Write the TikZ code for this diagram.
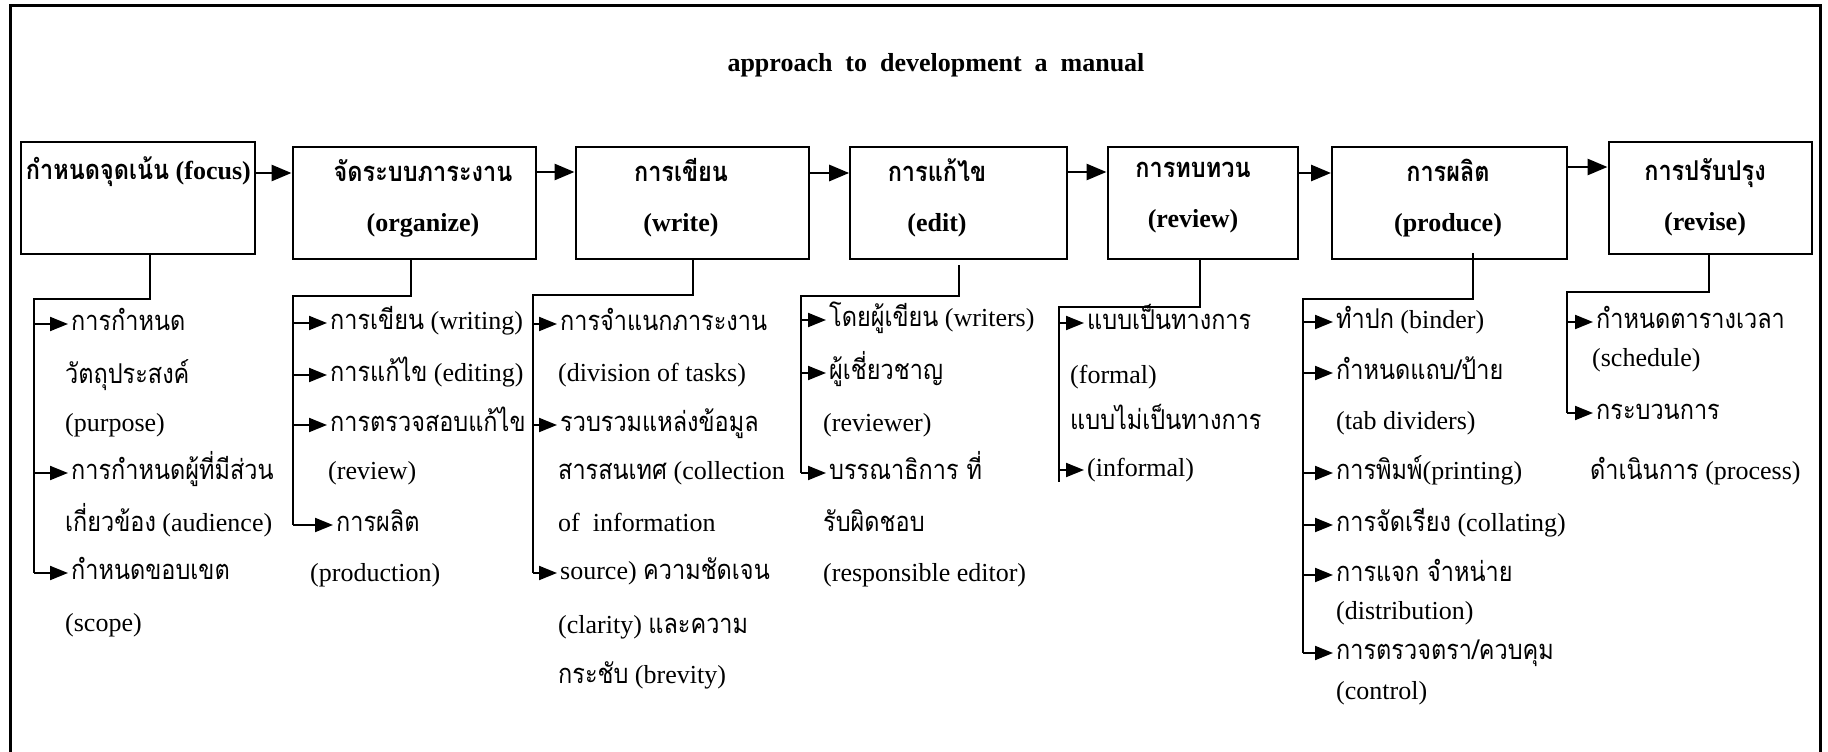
\documentclass[tikz,border=0pt]{standalone}
\usepackage{fontspec}
\setmainfont{Liberation Serif}
\newfontfamily\thaifont[Script=Thai,Scale=1.05,FakeStretch=0.86]{Loma}
\newcommand{\thtext}[1]{{\thaifont #1}}
\usetikzlibrary{arrows.meta}

\begin{document}
\begin{tikzpicture}[x=1pt,y=-1pt,line join=miter,
  stage/.style={draw,line width=2pt,inner sep=0pt},
  head/.style={align=center,inner sep=0pt,font=\bfseries\fontsize{26}{50}\selectfont},
  entry/.style={anchor=west,inner sep=0pt,font=\fontsize{26}{30}\selectfont,text height=18pt,text depth=6pt},
  flow/.style={line width=2.8pt,-{Triangle[length=20pt,width=16pt]}},
  link/.style={line width=2pt},
  sub/.style={line width=2pt,-{Triangle[length=18pt,width=14pt]}}]
  \useasboundingbox (0,0) rectangle (1828,752);
  % 外框，下边不画
  \draw[line width=3pt] (10,752) -- (10,6) -- (1820,6) -- (1820,752);
  \node[font=\bfseries\fontsize{26}{30}\selectfont] (title) at (936,65) {approach~ to~ development~ a~ manual};
  % 七个阶段
  \node[stage,minimum width=234pt,minimum height=112pt] (b1) at (138,197.5) {};
  \node[stage,minimum width=243pt,minimum height=112pt] (b2) at (414,203.3) {};
  \node[stage,minimum width=233pt,minimum height=112pt] (b3) at (692,203.3) {};
  \node[stage,minimum width=217pt,minimum height=112pt] (b4) at (958.7,203.3) {};
  \node[stage,minimum width=190pt,minimum height=112pt] (b5) at (1202.5,203.3) {};
  \node[stage,minimum width=235pt,minimum height=112pt] (b6) at (1449.5,203.3) {};
  \node[stage,minimum width=203pt,minimum height=112pt] (b7) at (1710,197.5) {};
  \begin{scope}
    \clip (b1.south west) rectangle (b1.north east);
    \node[head,anchor=east] (h1) at (251,172) {\thtext{กำหนดจุดเน้น} (focus)};
  \end{scope}
  \node[head] (h2) at (423,198) {\thtext{จัดระบบภาระงาน}\\(organize)};
  \node[head] (h3) at (681,198) {\thtext{การเขียน}\\(write)};
  \node[head] (h4) at (937,198) {\thtext{การแก้ไข}\\(edit)};
  \node[head] (h5) at (1193,198) {\thtext{การทบทวน}\\(review)};
  \node[head] (h6) at (1448,198) {\thtext{การผลิต}\\(produce)};
  \node[head] (h7) at (1705,197) {\thtext{การปรับปรุง}\\(revise)};
  \draw[flow] (b1.east |- 0,173) -- (b2.west |- 0,173);
  \draw[flow] (b2.east |- 0,172) -- (b3.west |- 0,172);
  \draw[flow] (b3.east |- 0,173) -- (b4.west |- 0,173);
  \draw[flow] (b4.east |- 0,172) -- (b5.west |- 0,172);
  \draw[flow] (b5.east |- 0,173) -- (b6.west |- 0,173);
  \draw[flow] (b6.east |- 0,167) -- (b7.west |- 0,167);
  % 第一列
  \foreach \tx/\ty/\txt [count=\i] in {71/324/{\thtext{การกำหนด}}, 65/377/{\thtext{วัตถุประสงค์}},
      65/425/{(purpose)}, 71/473/{\thtext{การกำหนดผู้ที่มีส่วน}}, 65/525/{\thtext{เกี่ยวข้อง} (audience)},
      71/573/{\thtext{กำหนดขอบเขต}}, 65/625/{(scope)}}
    \node[entry] (c1-\i) at (\tx,\ty) {\txt};
  \coordinate (d1) at (149.5,299);
  \coordinate (s1) at (33.6,299);
  \draw[link] (b1.south -| d1) -- (d1) -- (s1) -- (s1 |- c1-6.west);
  \foreach \i in {1,4,6} \draw[sub] (s1 |- c1-\i.west) -- ([xshift=-3pt]c1-\i.west);
  % 第二列
  \foreach \tx/\ty/\txt [count=\i] in {330/323/{\thtext{การเขียน} (writing)}, 330/375/{\thtext{การแก้ไข} (editing)},
      330/425/{\thtext{การตรวจสอบแก้ไข}}, 328/473/{(review)}, 336/525/{\thtext{การผลิต}}, 310/575/{(production)}}
    \node[entry] (c2-\i) at (\tx,\ty) {\txt};
  \coordinate (d2) at (411,296);
  \coordinate (s2) at (293.4,296);
  \draw[link] (b2.south -| d2) -- (d2) -- (s2) -- (s2 |- c2-5.west);
  \foreach \i in {1,2,3,5} \draw[sub] (s2 |- c2-\i.west) -- ([xshift=-3pt]c2-\i.west);
  % 第三列
  \foreach \tx/\ty/\txt [count=\i] in {560/324/{\thtext{การจำแนกภาระงาน}}, 558/375/{(division of tasks)},
      560/425/{\thtext{รวบรวมแหล่งข้อมูล}}, 558/473/{\thtext{สารสนเทศ} (collection}, 558/525/{of~ information},
      560/573/{source) \thtext{ความชัดเจน}}, 558/627/{(clarity) \thtext{และความ}}, 558/677/{\thtext{กระชับ} (brevity)}}
    \node[entry] (c3-\i) at (\tx,\ty) {\txt};
  \coordinate (d3) at (693,295);
  \coordinate (s3) at (533,295);
  \draw[link] (b3.south -| d3) -- (d3) -- (s3) -- (s3 |- c3-6.west);
  \foreach \i in {1,3,6} \draw[sub] (s3 |- c3-\i.west) -- ([xshift=-3pt]c3-\i.west);
  % 第四列
  \foreach \tx/\ty/\txt [count=\i] in {829/320/{\thtext{โดยผู้เขียน} (writers)}, 829/373/{\thtext{ผู้เชี่ยวชาญ}},
      823/425/{(reviewer)}, 829/473/{\thtext{บรรณาธิการ ที่}}, 823/525/{\thtext{รับผิดชอบ}}, 823/575/{(responsible editor)}}
    \node[entry] (c4-\i) at (\tx,\ty) {\txt};
  \coordinate (d4) at (958.6,296);
  \coordinate (s4) at (801,296);
  \draw[link] ([yshift=-5pt]b4.south -| d4) -- (d4) -- (s4) -- (s4 |- c4-4.west);
  \foreach \i in {1,2,4} \draw[sub] (s4 |- c4-\i.west) -- ([xshift=-3pt]c4-\i.west);
  % 第五列
  \foreach \tx/\ty/\txt [count=\i] in {1087/323/{\thtext{แบบเป็นทางการ}}, 1070/377/{(formal)},
      1070/423/{\thtext{แบบไม่เป็นทางการ}}, 1087/470/{(informal)}}
    \node[entry] (c5-\i) at (\tx,\ty) {\txt};
  \coordinate (d5) at (1200,307);
  \coordinate (s5) at (1059.3,307);
  \draw[link] (b5.south -| d5) -- (d5) -- (s5) -- (s5 |- c5-4.south);
  \foreach \i in {1,4} \draw[sub] (s5 |- c5-\i.west) -- ([xshift=-3pt]c5-\i.west);
  % 第六列
  \foreach \tx/\ty/\txt [count=\i] in {1336/322/{\thtext{ทำปก} (binder)}, 1336/373/{\thtext{กำหนดแถบ/ป้าย}},
      1336/423/{(tab dividers)}, 1336/473/{\thtext{การพิมพ์}(printing)}, 1336/525/{\thtext{การจัดเรียง} (collating)},
      1336/575/{\thtext{การแจก จำหน่าย}}, 1336/613/{(distribution)}, 1336/653/{\thtext{การตรวจตรา/ควบคุม}},
      1336/693/{(control)}}
    \node[entry] (c6-\i) at (\tx,\ty) {\txt};
  \coordinate (d6) at (1473,299);
  \coordinate (s6) at (1303,299);
  \draw[link] ([yshift=7pt]b6.south -| d6) -- (d6) -- (s6) -- (s6 |- c6-8.west);
  \foreach \i in {1,2,4,5,6,8} \draw[sub] (s6 |- c6-\i.west) -- ([xshift=-3pt]c6-\i.west);
  % 第七列
  \foreach \tx/\ty/\txt [count=\i] in {1596/322/{\thtext{กำหนดตารางเวลา}}, 1592/360/{(schedule)},
      1596/413/{\thtext{กระบวนการ}}, 1590/473/{\thtext{ดำเนินการ} (process)}}
    \node[entry] (c7-\i) at (\tx,\ty) {\txt};
  \coordinate (d7) at (1709,292);
  \coordinate (s7) at (1567,292);
  \draw[link] (b7.south -| d7) -- (d7) -- (s7) -- (s7 |- c7-3.west);
  \foreach \i in {1,3} \draw[sub] (s7 |- c7-\i.west) -- ([xshift=-3pt]c7-\i.west);
\end{tikzpicture}
\end{document}
